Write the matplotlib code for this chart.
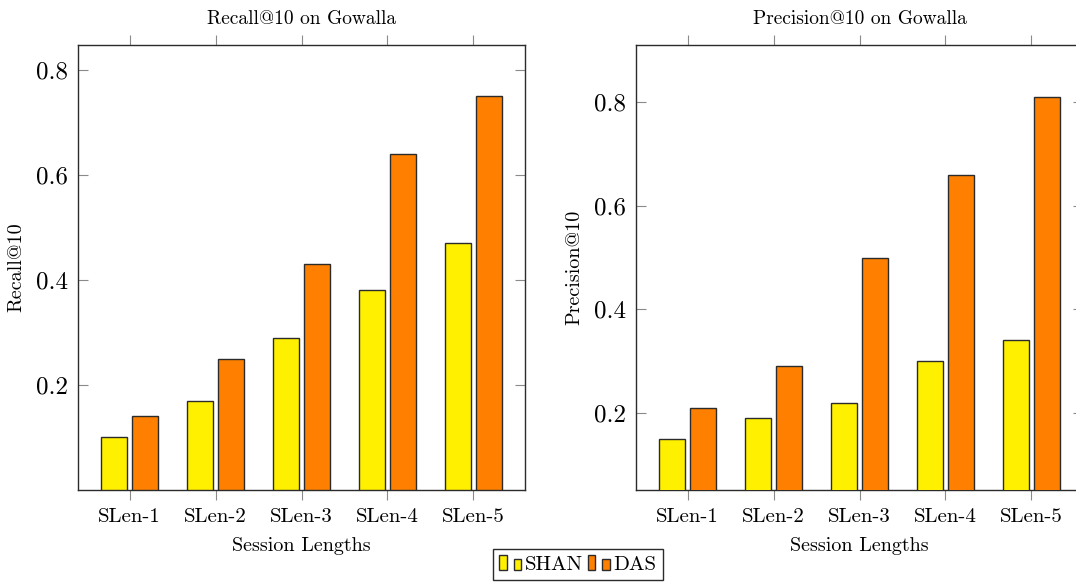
import matplotlib
matplotlib.use("Agg")
import matplotlib.pyplot as plt
import numpy as np
from matplotlib.patches import Rectangle
from matplotlib.legend_handler import HandlerBase

plt.rcParams["font.family"] = ["cmr10", "DejaVu Serif"]
plt.rcParams["mathtext.fontset"] = "cm"
plt.rcParams["axes.formatter.use_mathtext"] = True

# ── Data ──────────────────────────────────────────────────────────────────────
sessions = ["SLen-1", "SLen-2", "SLen-3", "SLen-4", "SLen-5"]
recall_shan = [0.10, 0.17, 0.29, 0.38, 0.47]
recall_das = [0.14, 0.25, 0.43, 0.64, 0.75]
prec_shan = [0.15, 0.19, 0.22, 0.30, 0.34]
prec_das = [0.21, 0.29, 0.50, 0.66, 0.81]
yticks = [0.2, 0.4, 0.6, 0.8]
ytick_labels = ["0.2", "0.4", "0.6", "0.8"]
# ─────────────────────────────────────────────────────────────────────────────

YELLOW = "#FFF000"
ORANGE = "#FF8000"
EDGE = "#2b2b2b"
TICK = "#8a8a8a"


class BarGlyph(HandlerBase):
    """pgfplots-style ybar legend glyph: two small bars of different height."""
    def create_artists(self, legend, orig_handle, xdescent, ydescent,
                       width, height, fontsize, trans):
        fc = orig_handle.get_facecolor()
        x0, y0 = -xdescent, -ydescent
        bw = 0.34 * width
        r1 = Rectangle((x0, y0), bw, 1.05 * height, facecolor=fc,
                       edgecolor=EDGE, lw=1.0, transform=trans)
        r2 = Rectangle((x0 + 0.66 * width, y0), bw, 0.75 * height, facecolor=fc,
                       edgecolor=EDGE, lw=1.0, transform=trans)
        return [r1, r2]


fig = plt.figure(figsize=(10.76, 5.83), dpi=100)
W, H = 1076, 583
ax1 = fig.add_axes([78 / W, 1 - 490 / H, 447 / W, 445 / H])
ax2 = fig.add_axes([636 / W, 1 - 490 / H, 447 / W, 445 / H])

x = np.arange(1, len(sessions) + 1)
bw = 0.30
off = 0.18


def draw(ax, shan, das, ylim, title, ylabel):
    b1 = ax.bar(x - off, shan, bw, color=YELLOW, edgecolor=EDGE, lw=1.0, zorder=3)
    b2 = ax.bar(x + off, das, bw, color=ORANGE, edgecolor=EDGE, lw=1.0, zorder=3)
    ax.set_xlim(0.4, 5.6)
    ax.set_ylim(*ylim)
    ax.set_xticks(x)
    ax.set_xticklabels(sessions, fontsize=15)
    ax.set_yticks(yticks)
    ax.set_yticklabels(ytick_labels, fontsize=18)
    ax.tick_params(axis="x", direction="out", top=True, length=7, width=0.8,
                   color=TICK, pad=6)
    ax.tick_params(axis="y", direction="in", right=True, length=7, width=0.8,
                   color=TICK, pad=7)
    for s in ax.spines.values():
        s.set_color(EDGE)
        s.set_linewidth(1.0)
    ax.set_title(title, fontsize=14, pad=15)
    ax.set_xlabel("Session Lengths", fontsize=14.5, labelpad=8)
    ax.set_ylabel(ylabel, fontsize=14.5, labelpad=8)
    return b1, b2


b1, b2 = draw(ax1, recall_shan, recall_das, (0, 0.847),
              "Recall@10 on Gowalla", "Recall@10")
draw(ax2, prec_shan, prec_das, (0.0515, 0.91),
     "Precision@10 on Gowalla", "Precision@10")

h1 = Rectangle((0, 0), 1, 1, facecolor=YELLOW)
h2 = Rectangle((0, 0), 1, 1, facecolor=ORANGE)
leg = fig.legend([h1, h2], ["SHAN", "DAS"], ncol=2, loc="upper center",
                 bbox_to_anchor=(578 / W, 1 - 549 / H), borderaxespad=0,
                 handler_map={Rectangle: BarGlyph()},
                 fontsize=15, handlelength=1.05, handletextpad=0.2,
                 columnspacing=0.2, borderpad=0.3, fancybox=False,
                 edgecolor=EDGE, framealpha=1)
leg.get_frame().set_linewidth(1.0)

fig.savefig("out.png", dpi=100)
